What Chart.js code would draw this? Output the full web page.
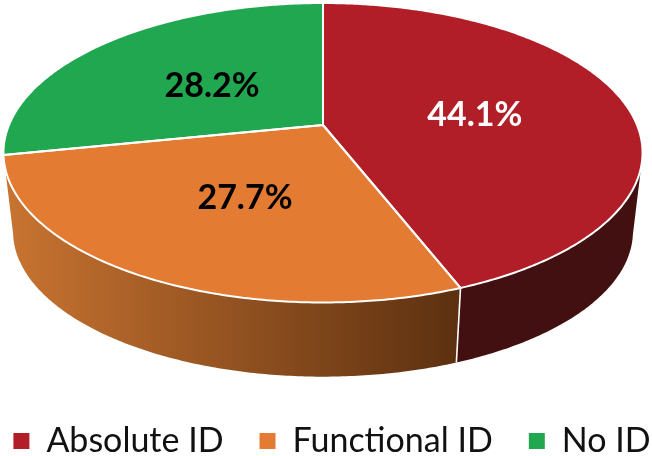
<!DOCTYPE html>
<html><head><meta charset="utf-8">
<style>html,body{margin:0;padding:0;background:#fff;overflow:hidden}#w{width:652px;height:456px;position:relative;overflow:hidden}#c{position:absolute;left:-40px;top:0}</style>
<script src="https://cdn.jsdelivr.net/npm/chart.js@4"></script>
</head><body><div id="w"><canvas id="c" width="732" height="456"></canvas></div>
<script>
const categories = ['Absolute ID', 'Functional ID', 'No ID'];
const values = [44.1, 27.7, 28.2];
const labelTexts = ['44.1%', '27.7%', '28.2%'];
const sliceColors = ['#b21e27', '#e37b33', '#22a751'];
const labelColors = ['#ffffff', '#000000', '#000000'];

// perspective projection of the pie disc (canvas is 40px wider on each side, for the one-line legend)
const view = {cx: 363, apexY: 125, A: 314, B: 144.6, k: 0.1853, depthY: 204.5, depthScale: 0.97};
const labelRadius = [0.49, 0.54, 0.45];
const labelNudge = [[3, 3], [11, -2], [-7, 0]];
function proj(angle, r, lower) {
  const u = Math.cos(angle) * r, v = Math.sin(angle) * r, w = 1 - view.k * v;
  const s = lower ? view.depthScale : 1;
  return [view.cx + s * view.A * u / w, (lower ? view.depthY : view.apexY) + s * view.B * v / w];
}
function rim(ctx, a, b, lower, move) {
  const n = Math.max(2, Math.ceil(Math.abs(b - a) / 0.01));
  for (let i = 0; i <= n; i++) {
    const p = proj(a + (b - a) * i / n, 1, lower);
    if (i === 0 && move) ctx.moveTo(p[0], p[1]); else ctx.lineTo(p[0], p[1]);
  }
}
const pie3d = {
  id: 'pie3d',
  beforeDatasetsDraw(chart) {
    const ctx = chart.ctx, arcs = chart.getDatasetMeta(0).data;
    const ang = i => [arcs[i].startAngle, arcs[i].endAngle];
    ctx.save();
    ctx.lineJoin = 'round';
    const wallStart = 12 * Math.PI / 180;
    const [r0, r1] = ang(0);
    ctx.beginPath(); rim(ctx, wallStart, r1, false, true); rim(ctx, r1, wallStart, true, false); ctx.closePath();
    ctx.fillStyle = '#431011'; ctx.fill();
    const [o0, o1] = ang(1);
    const g = ctx.createLinearGradient(45, 0, 500, 0);
    g.addColorStop(0, '#c97431'); g.addColorStop(1, '#5c3010');
    ctx.beginPath(); rim(ctx, o0, o1, false, true); rim(ctx, o1, o0, true, false); ctx.closePath();
    ctx.fillStyle = g; ctx.fill();
    const a = proj(r1, 1, false), b = proj(r1, 1, true);
    ctx.strokeStyle = '#fff'; ctx.lineWidth = 1.6;
    ctx.beginPath(); ctx.moveTo(a[0], a[1]); ctx.lineTo(b[0], b[1]); ctx.stroke();
    arcs.forEach((arc, i) => {
      ctx.beginPath();
      ctx.moveTo(view.cx, view.apexY);
      rim(ctx, arc.startAngle, arc.endAngle, false, false);
      ctx.closePath();
      ctx.fillStyle = sliceColors[i]; ctx.fill();
    });
    arcs.forEach((arc) => {
      ctx.beginPath();
      ctx.moveTo(view.cx, view.apexY);
      rim(ctx, arc.startAngle, arc.endAngle, false, false);
      ctx.closePath();
      ctx.strokeStyle = '#fff'; ctx.lineWidth = 2; ctx.stroke();
    });
    ctx.font = 'bold 34px Lato';
    ctx.textAlign = 'center'; ctx.textBaseline = 'middle';
    arcs.forEach((arc, i) => {
      const p = proj((arc.startAngle + arc.endAngle) / 2, labelRadius[i], false);
      ctx.fillStyle = labelColors[i];
      ctx.fillText(labelTexts[i], p[0] + labelNudge[i][0], p[1] + labelNudge[i][1]);
    });
    ctx.restore();
    return false;
  }
};
new Chart(document.getElementById('c'), {
  type: 'pie',
  data: {labels: categories, datasets: [{data: values, backgroundColor: sliceColors, borderWidth: 0}]},
  options: {
    responsive: false, animation: false,
    layout: {padding: {left: 12, bottom: -12}},
    plugins: {
      tooltip: {enabled: false},
      legend: {
        position: 'bottom',
        labels: {boxWidth: 16, boxHeight: 16, padding: 36, color: '#111', font: {family: 'Lato', size: 34}}
      }
    }
  },
  plugins: [pie3d]
});
</script></body></html>
